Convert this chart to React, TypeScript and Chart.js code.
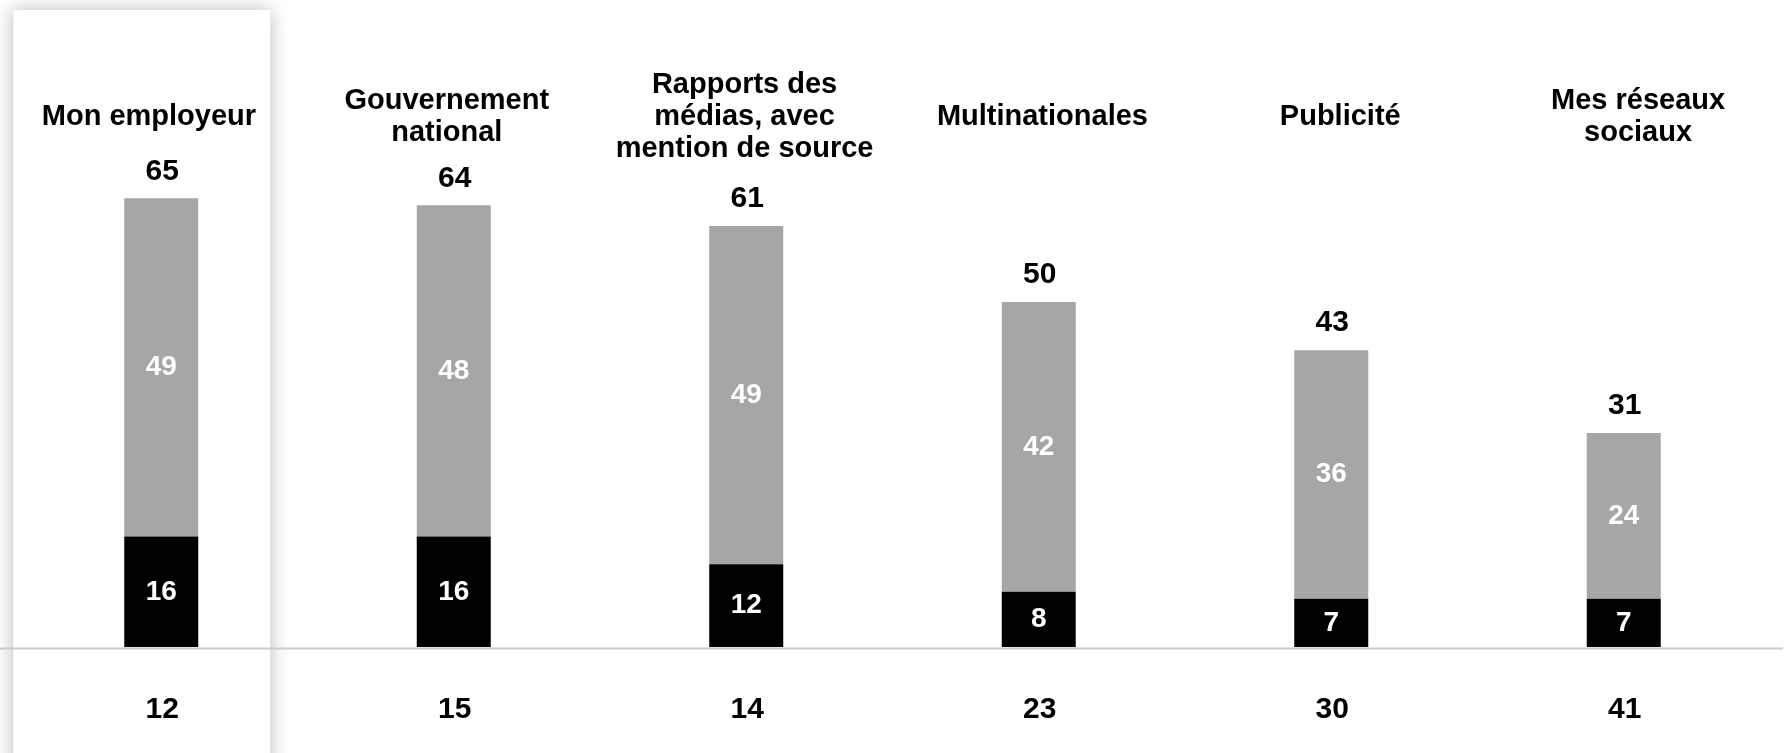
import React, { useEffect, useRef } from "react";
import { Chart, registerables } from "chart.js";

Chart.register(...registerables);

const categories: string[][] = [
  ["Mon employeur"],
  ["Gouvernement", "national"],
  ["Rapports des", "médias, avec", "mention de source"],
  ["Multinationales"],
  ["Publicité"],
  ["Mes réseaux", "sociaux"],
];
const strongValues = [16, 16, 12, 8, 7, 7];
const moderateValues = [49, 48, 49, 42, 36, 24];
const totalValues = [65, 64, 61, 50, 43, 31];
const bottomValues = [12, 15, 14, 23, 30, 41];

const FONT = "'Liberation Sans', Arial, Helvetica, sans-serif";

const overlayPlugin = {
  id: "overlay",
  beforeDraw(chart: any) {
    const { ctx } = chart;
    const xs = chart.scales.x;
    const cx = xs.getPixelForValue(0);
    ctx.save();
    ctx.shadowColor = "rgba(0,0,0,0.28)";
    ctx.shadowBlur = 18;
    ctx.fillStyle = "#ffffff";
    ctx.fillRect(cx - 148, 10, 257, chart.height + 40);
    ctx.restore();
    // baseline
    const y0 = chart.scales.y.getPixelForValue(0);
    ctx.save();
    ctx.strokeStyle = "#c6cbce";
    ctx.lineWidth = 2;
    ctx.beginPath();
    ctx.moveTo(0, y0 + 1.5);
    ctx.lineTo(chart.width - 4, y0 + 1.5);
    ctx.stroke();
    ctx.restore();
  },
  afterDatasetsDraw(chart: any) {
    const { ctx } = chart;
    const metaStrong = chart.getDatasetMeta(0);
    const metaMod = chart.getDatasetMeta(1);
    const colW = chart.width / categories.length;
    ctx.save();
    ctx.textAlign = "center";
    ctx.textBaseline = "middle";
    categories.forEach((lines, i) => {
      const sBar = metaStrong.data[i];
      const mBar = metaMod.data[i];
      const x = mBar.x;
      // category label (centered in equal columns across the full width)
      const lx = colW * (i + 0.5);
      ctx.fillStyle = "#000";
      ctx.font = `bold 29px ${FONT}`;
      const lh = 32;
      const centerY = 117;
      lines.forEach((ln, k) => {
        ctx.fillText(ln, lx, centerY + (k - (lines.length - 1) / 2) * lh);
      });
      // total
      ctx.font = `bold 30px ${FONT}`;
      ctx.fillText(String(totalValues[i]), x + 1, mBar.y - 27);
      // inner labels
      ctx.fillStyle = "#ffffff";
      ctx.font = `bold 28px ${FONT}`;
      ctx.fillText(String(moderateValues[i]), x, (mBar.y + mBar.base) / 2);
      ctx.fillText(String(strongValues[i]), x, (sBar.y + sBar.base) / 2);
      // bottom values
      ctx.fillStyle = "#000";
      ctx.font = `bold 30px ${FONT}`;
      ctx.fillText(String(bottomValues[i]), x + 1, 710);
    });
    ctx.restore();
  },
};

export default function App() {
  const ref = useRef<HTMLCanvasElement | null>(null);
  useEffect(() => {
    if (!ref.current) return;
    const chart = new Chart(ref.current, {
      type: "bar",
      data: {
        labels: categories.map((c) => c.join(" ")),
        datasets: [
          {
            label: "strong",
            data: strongValues,
            backgroundColor: "#000000",
            barPercentage: 0.253,
            categoryPercentage: 1,
          },
          {
            label: "moderate",
            data: moderateValues,
            backgroundColor: "#a6a6a6",
            barPercentage: 0.253,
            categoryPercentage: 1,
          },
        ],
      },
      options: {
        animation: false,
        responsive: true,
        maintainAspectRatio: false,
        layout: { padding: { left: 15, right: 17, top: 12, bottom: 106 } },
        plugins: {
          legend: { display: false },
          tooltip: { enabled: false },
        },
        scales: {
          x: { stacked: true, display: false },
          y: { stacked: true, display: false, min: 0, max: 92 },
        },
      },
      plugins: [overlayPlugin],
    });
    return () => chart.destroy();
  }, []);
  return (
    <div style={{ position: "fixed", left: 0, top: 0, width: "1787px", height: "753px", background: "#fff" }}>
      <canvas ref={ref} />
    </div>
  );
}
